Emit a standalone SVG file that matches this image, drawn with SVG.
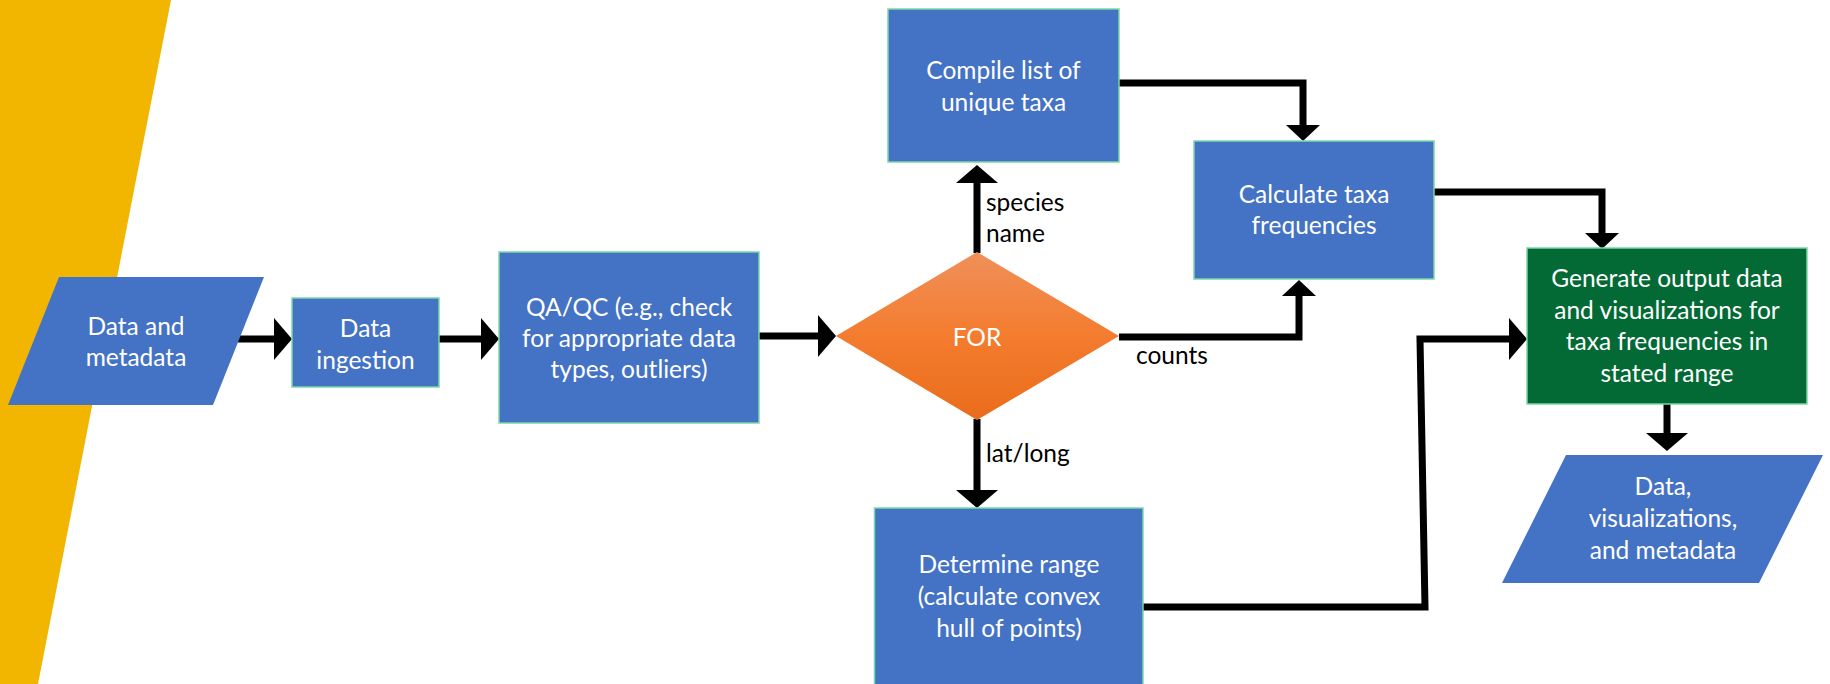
<svg xmlns="http://www.w3.org/2000/svg" width="1830" height="684" viewBox="0 0 1830 684">
<style>
.box{fill:#4472C4;stroke:#7AD7A6;stroke-width:1.5}
.gbox{fill:#036A36;stroke:#7AD7A6;stroke-width:1.5}
.io{fill:#4472C4}
.t{font-family:Lato,"Liberation Sans",sans-serif;font-size:24.5px;fill:#FFFFFF;text-anchor:middle}
.lbl{font-family:Lato,"Liberation Sans",sans-serif;font-size:24.5px;fill:#000000}
.c{fill:none;stroke:#000;stroke-width:7;stroke-linejoin:miter}
.big{marker-end:url(#ah)}
.sm{marker-end:url(#as)}
</style>
<defs>
<linearGradient id="og" x1="0" y1="0" x2="0" y2="1">
<stop offset="0" stop-color="#F0905A"/>
<stop offset="0.5" stop-color="#F47C2E"/>
<stop offset="1" stop-color="#E96C1B"/>
</linearGradient>
<marker id="ah" markerUnits="userSpaceOnUse" markerWidth="18" markerHeight="42" viewBox="0 0 18 42" refX="0" refY="21" orient="auto" overflow="visible">
<path d="M0,0 L18,21 L0,42 Z" fill="#000"/>
</marker>
<marker id="as" markerUnits="userSpaceOnUse" markerWidth="16" markerHeight="34" viewBox="0 0 16 34" refX="0" refY="17" orient="auto" overflow="visible">
<path d="M0,0 L16,17 L0,34 Z" fill="#000"/>
</marker>
</defs>
<rect width="1830" height="684" fill="#FFFFFF"/>
<polygon id="band" points="0,0 171,0 38,684 0,684" fill="#F2B600"/>

<g id="connectors">
<path class="c big" d="M238,339 H274"/>
<path class="c big" d="M439,339 H481"/>
<path class="c big" d="M759,336 H818"/>
<path class="c big" d="M977,253 V183"/>
<path class="c sm" d="M1119,337 H1299 V296"/>
<path class="c big" d="M977,419 V490"/>
<path class="c sm" d="M1119,83 H1303 V125"/>
<path class="c sm" d="M1434,192 H1602 V233"/>
<path class="c big" d="M1143,607 H1425 L1420,339 H1509"/>
<path class="c big" d="M1667,404 V433"/>
</g>

<g id="n-data-metadata">
<polygon class="io" points="59,277 264,277 213,405 8,405"/>
<text class="t" x="136" y="335">Data and</text>
<text class="t" x="136" y="366">metadata</text>
</g>

<g id="n-ingestion">
<rect class="box" x="292" y="298" width="147" height="89"/>
<text class="t" x="365.5" y="337">Data</text>
<text class="t" x="365.5" y="369">ingestion</text>
</g>

<g id="n-qaqc">
<rect class="box" x="499" y="252" width="260" height="171"/>
<text class="t" x="629" y="316">QA/QC (e.g., check</text>
<text class="t" x="629" y="347">for appropriate data</text>
<text class="t" x="629" y="378">types, outliers)</text>
</g>

<g id="n-for">
<polygon points="836,336 977,252 1119,336 977,420" fill="url(#og)"/>
<text class="t" x="977" y="346">FOR</text>
</g>

<g id="n-compile">
<rect class="box" x="888" y="9" width="231" height="153"/>
<text class="t" x="1003.5" y="79">Compile list of</text>
<text class="t" x="1003.5" y="111">unique taxa</text>
</g>

<g id="n-calc">
<rect class="box" x="1194" y="141" width="240" height="138"/>
<text class="t" x="1314" y="203">Calculate taxa</text>
<text class="t" x="1314" y="234">frequencies</text>
</g>

<g id="n-determine">
<rect class="box" x="874.5" y="508" width="268.5" height="190"/>
<text class="t" x="1009" y="573">Determine range</text>
<text class="t" x="1009" y="605">(calculate convex</text>
<text class="t" x="1009" y="637">hull of points)</text>
</g>

<g id="n-generate">
<rect class="gbox" x="1527" y="248" width="280" height="156"/>
<text class="t" x="1667" y="287">Generate output data</text>
<text class="t" x="1667" y="318.5">and visualizations for</text>
<text class="t" x="1667" y="350">taxa frequencies in</text>
<text class="t" x="1667" y="382">stated range</text>
</g>

<g id="n-output">
<polygon class="io" points="1566,455 1823,455 1759,583 1502,583"/>
<text class="t" x="1663" y="495">Data,</text>
<text class="t" x="1663" y="527">visualizations,</text>
<text class="t" x="1663" y="559">and metadata</text>
</g>

<g id="labels">
<text class="lbl" x="986" y="211">species</text>
<text class="lbl" x="986" y="242">name</text>
<text class="lbl" x="1136" y="364">counts</text>
<text class="lbl" x="986" y="462">lat/long</text>
</g>
</svg>
